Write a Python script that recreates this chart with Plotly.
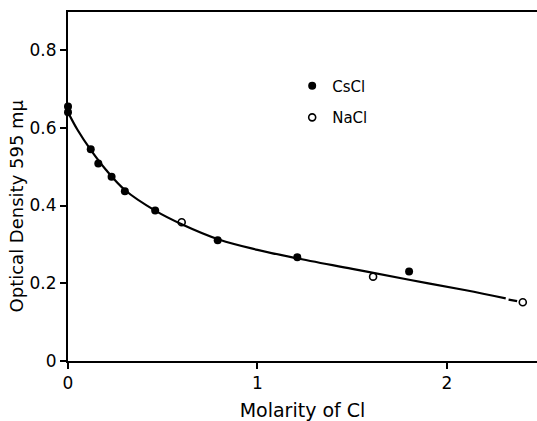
import plotly.graph_objects as go

# Data
cscl_x = [0.0, 0.0, 0.12, 0.16, 0.23, 0.30, 0.46, 0.79, 1.21, 1.80]
cscl_y = [0.655, 0.640, 0.545, 0.508, 0.474, 0.437, 0.387, 0.311, 0.267, 0.230]
nacl_x = [0.60, 1.61, 2.40]
nacl_y = [0.357, 0.217, 0.151]
fit_x = [0.0, 0.05, 0.12, 0.20, 0.30, 0.46, 0.60, 0.80, 1.00, 1.20, 1.50, 1.80, 2.10, 2.31]
fit_y = [0.640, 0.595, 0.543, 0.492, 0.440, 0.387, 0.352, 0.312, 0.286, 0.265, 0.237, 0.209, 0.182, 0.161]
dash_x = [2.325, 2.37]
dash_y = [0.158, 0.154]
x_ticks = [0, 1, 2]
x_ticklabels = ["0", "1", "2"]
y_ticks = [0, 0.2, 0.4, 0.6, 0.8]
y_ticklabels = ["0", "0.2", "0.4", "0.6", "0.8"]

FONT = "DejaVu Sans, sans-serif"

fig = go.Figure()
fig.add_trace(go.Scatter(x=fit_x, y=fit_y, mode="lines", line=dict(color="black", width=2.2, shape="spline", smoothing=1.0),
                         showlegend=False, hoverinfo="skip", cliponaxis=False))
fig.add_trace(go.Scatter(x=dash_x, y=dash_y, mode="lines", line=dict(color="black", width=2.2),
                         showlegend=False, hoverinfo="skip", cliponaxis=False))
fig.add_trace(go.Scatter(x=cscl_x, y=cscl_y, mode="markers", name="CsCl", legendgroup="a",
                         marker=dict(symbol="circle", size=8, color="black"), cliponaxis=False))
fig.add_trace(go.Scatter(x=nacl_x, y=nacl_y, mode="markers", name="NaCl", legendgroup="b",
                         marker=dict(symbol="circle-open", size=7, color="black", line=dict(width=1.6, color="black")),
                         cliponaxis=False))

fig.update_layout(
    width=537, height=421,
    margin=dict(l=68, r=0, t=12, b=60),
    paper_bgcolor="white", plot_bgcolor="white",
    font=dict(family=FONT, size=16, color="black"),
    legend=dict(x=0.478, y=0.835, xanchor="left", yanchor="top", bgcolor="rgba(0,0,0,0)",
                font=dict(size=15), tracegroupgap=9, traceorder="grouped", itemwidth=30),
    xaxis=dict(range=[0, 2.475], tickvals=x_ticks, ticktext=x_ticklabels, ticks="outside", ticklen=6,
               tickwidth=1.5, tickcolor="black", showline=True, linewidth=2, linecolor="black",
               mirror=True, showgrid=False, zeroline=False, title=dict(text="Molarity of Cl", standoff=14),
               tickfont=dict(size=17)),
    yaxis=dict(range=[0, 0.898], tickvals=y_ticks, ticktext=y_ticklabels, ticks="outside", ticklen=6,
               tickwidth=1.5, tickcolor="black", showline=True, linewidth=2, linecolor="black",
               showgrid=False, zeroline=False, tickfont=dict(size=17)),
    annotations=[dict(text="Optical Density 595 mμ", textangle=-90, xref="paper", yref="paper",
                      x=-0.11, y=0.444, xanchor="center", yanchor="middle", showarrow=False,
                      font=dict(family=FONT, size=18, color="black"))],
)

fig.write_html("out.html")
